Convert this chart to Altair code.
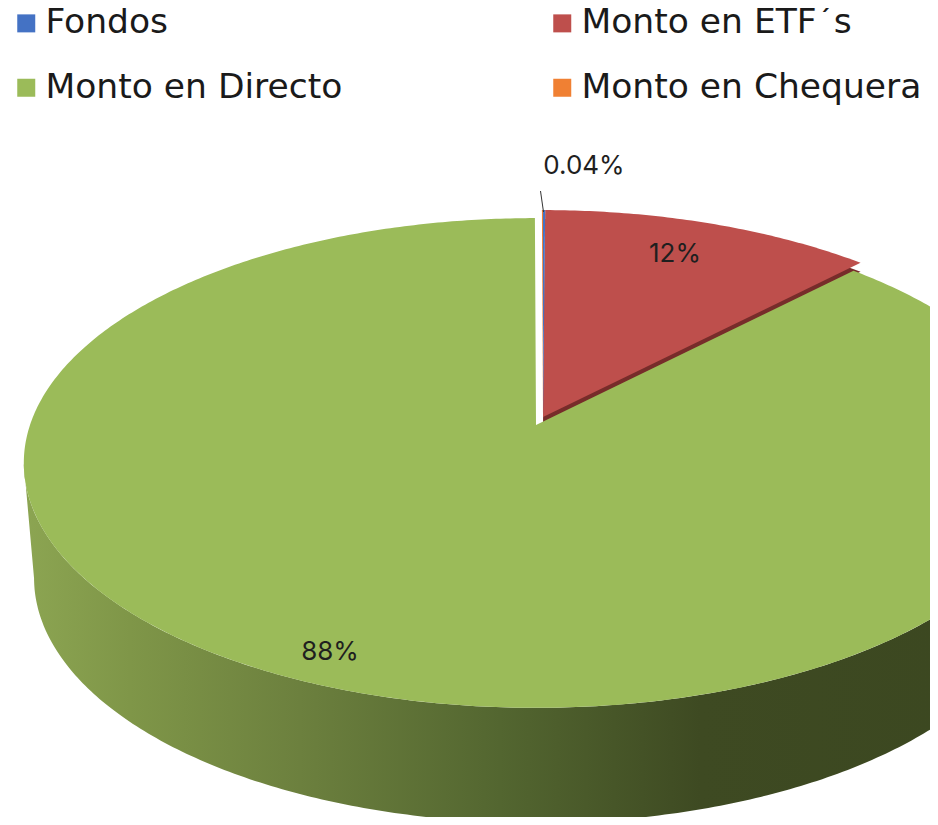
import math
import altair as alt

# ---- chart values
categories = ["Fondos", "Monto en ETF´s", "Monto en Directo", "Monto en Chequera"]
shares = [0.08, 12.2, 87.68, 0.04]           # percent, clockwise from 12 o'clock
colors = ["#4472C4", "#BE4F4C", "#9BBB59", "#F08033"]
legend_order = [0, 2, 1, 3]                  # the legend fills column by column
label_texts = ["0.04%", "12%", "88%"]

# ---- perspective drawing of the disc (image pixels minus the page margin)
M = 8
TOP = 12
A, B, Q = 506, 239, 0.155
DEPTH, INSET = 115, 0.98
GREEN_APEX = (536 - M, 425 - M - TOP)
RED_APEX = (543 - M, 417 - M - TOP)
FONT = "Inter"
LEGEND_FONT = "DejaVu Sans"


def disc(t, apex):
    u, v = math.sin(t), math.cos(t)
    w = 1 + Q * v
    return (apex[0] + A * u / w, apex[1] - B * v / w)


def arc(start, end, apex):
    n = max(2, int(abs(end - start) * 90))
    return [disc(start + (end - start) * i / n, apex) for i in range(n + 1)]


def frac(p):
    return p / 100 * 2 * math.pi


def feature(name, ring, kind="Polygon"):
    coords = [[round(x, 2), round(y, 2)] for x, y in ring]
    geom = {"type": "Polygon", "coordinates": [coords + [coords[0]]]} if kind == "Polygon" else {
        "type": "LineString", "coordinates": coords}
    return {"type": "Feature", "geometry": geom, "properties": {"name": name}}


def wedge(name, start, end, apex, dy=0):
    pts = [apex] + arc(frac(start), frac(end), apex)
    return feature(name, [(x, y + dy) for x, y in pts])


cum = [0]
for s in shares:
    cum.append(cum[-1] + s)

t_right, t_left = math.radians(99), math.radians(261)
rim = arc(t_right, t_left, GREEN_APEX)
lower = [(GREEN_APEX[0] + (x - GREEN_APEX[0]) * INSET, y + DEPTH) for x, y in reversed(rim)]
wall = feature("wall", rim + lower)
xs = [p[0] for p in rim + lower]
x0, x1 = min(xs), max(xs)


def off(px):
    return (px - M - x0) / (x1 - x0)


wall_gradient = alt.Gradient(
    gradient="linear", x1=0, x2=1, y1=0, y2=0,
    stops=[
        alt.GradientStop(offset=0, color="#8CA552"),
        alt.GradientStop(offset=off(130), color="#7F9648"),
        alt.GradientStop(offset=off(300), color="#6C803E"),
        alt.GradientStop(offset=off(500), color="#536630"),
        alt.GradientStop(offset=off(700), color="#3E4A22"),
        alt.GradientStop(offset=1, color="#3B4720"),
    ],
)

projection = dict(type="identity", scale=1, translate=[0, 0])
color_scale = alt.Scale(domain=[categories[i] for i in legend_order],
                        range=[colors[i] for i in legend_order])
legend = alt.Legend(
    orient="none", legendX=1, legendY=-14, columns=2, title=None,
    symbolType="square", symbolSize=324, symbolStrokeWidth=0, symbolOpacity=1,
    labelFont=LEGEND_FONT, labelFontSize=34.5, labelColor="#1a1a1a", labelLimit=500,
    labelOffset=2, columnPadding=202, rowPadding=29.5,
)


def shape(features, **mark):
    return alt.Chart(alt.Data(values=features)).mark_geoshape(clip=True, **mark).project(**projection)


wall_layer = shape([wall], fill=wall_gradient, stroke=None).encode(opacity=alt.value(1))
band_layer = shape([wedge("band", cum[1], cum[2], RED_APEX, dy=9)], fill="#772C2A", stroke=None)

slices = [
    wedge(categories[2], cum[2], cum[3], GREEN_APEX),
    wedge(categories[1], cum[1], cum[2], RED_APEX),
    wedge(categories[0], cum[0], cum[1], RED_APEX),
    wedge(categories[3], cum[3] - 100, cum[4] - 100, RED_APEX),
]
green_layer = shape(slices[:1], stroke=None).encode(
    color=alt.Color("properties.name:N", scale=color_scale, legend=legend))
red_layer = shape(slices[1:], stroke=None).encode(
    color=alt.Color("properties.name:N", scale=color_scale, legend=legend))

leader = shape([feature("leader", [(540.5 - M, 191 - M - TOP), (543.5 - M, 212 - M - TOP)], "LineString")],
               filled=False, stroke="#333333", strokeWidth=1)

label_rows = [
    {"t": label_texts[0], "lon": 584 - M, "lat": 166 - M - TOP},
    {"t": label_texts[1], "lon": 675 - M, "lat": 254 - M - TOP},
    {"t": label_texts[2], "lon": 330 - M, "lat": 652 - M - TOP},
]
labels = alt.Chart(alt.Data(values=label_rows)).mark_text(
    font=FONT, fontSize=26, color="#1f1f1f", align="center", baseline="middle"
).encode(longitude="lon:Q", latitude="lat:Q", text="t:N").project(**projection)

chart = alt.layer(
    wall_layer, band_layer, green_layer, red_layer, leader, labels
).properties(
    width=922, height=797, background="white",
    padding={"left": 0, "top": TOP, "right": 0, "bottom": 0},
    autosize=alt.AutoSizeParams(type="none"),
).configure_view(stroke=None)

chart.save("out.html", embed_options={"renderer": "svg", "actions": False})
